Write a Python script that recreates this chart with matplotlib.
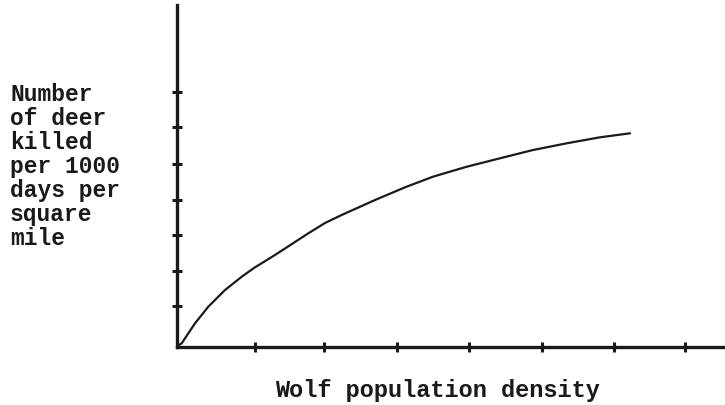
import matplotlib.pyplot as plt

# curve; x in units of ~72 px, y in units of ~36 px
wolf_density = [0.0, 0.072, 0.257, 0.442, 0.674, 0.906, 1.076, 1.368, 1.831,
                2.063, 2.294, 2.757, 3.174, 3.563, 4.031, 4.493, 4.951,
                5.419, 5.882, 6.299]
deer_killed = [0.0, 0.089, 0.644, 1.106, 1.569, 1.939, 2.181, 2.542, 3.144,
               3.431, 3.653, 4.069, 4.422, 4.717, 4.994, 5.228, 5.458,
               5.644, 5.811, 5.922]
# hand-drawn tick marks
x_ticks = [1.09, 2.05, 3.06, 4.06, 5.07, 6.08, 7.06]
y_ticks = [1.125, 2.11, 3.11, 4.07, 5.08, 6.1, 7.08]

ink = "#1c1a18"
font = dict(family=["Liberation Mono", "DejaVu Sans Mono"], weight="bold",
            color=ink)

fig = plt.figure(figsize=(7.25, 4.05), dpi=100)
ax = fig.add_axes([176.5 / 725, 58.5 / 405, 548.5 / 725, 341.5 / 405])

ax.plot(wolf_density, deer_killed, color=ink, lw=1.6,
        solid_joinstyle="round", solid_capstyle="round")

ax.set_xlim(0, 548.5 / 72)
ax.set_ylim(0, 341.5 / 36)
ax.set_xticks(x_ticks)
ax.set_yticks(y_ticks)
ax.set_xticklabels([])
ax.set_yticklabels([])
ax.tick_params(direction="inout", length=7, width=2.2, color=ink)

for side in ("top", "right"):
    ax.spines[side].set_visible(False)
for side in ("left", "bottom"):
    ax.spines[side].set_linewidth(2.4)
    ax.spines[side].set_color(ink)

fig.text(10 / 725, 1 - 83 / 405,
         "Number\nof deer\nkilled\nper 1000\ndays per\nsquare\nmile",
         ha="left", va="top", linespacing=1.06, size=16.5, **font)
fig.text(437 / 725, 1 - 390 / 405, "Wolf population density",
         ha="center", va="center", size=17, **font)

fig.savefig("out.png", dpi=100)
